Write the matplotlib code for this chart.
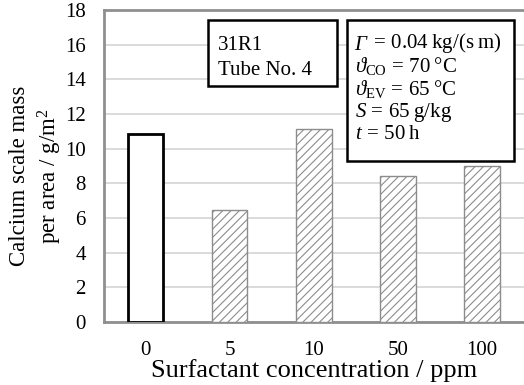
import matplotlib
matplotlib.use("Agg")
import matplotlib.pyplot as plt
from matplotlib.patches import Rectangle

# surfactant concentrations and measured scale mass per area
concentrations = ["0", "5", "10", "50", "100"]
scale_mass = [10.85, 6.45, 11.15, 8.4, 9.0]

plt.rcParams['font.family'] = ['Liberation Serif', 'DejaVu Serif']
plt.rcParams['mathtext.fontset'] = 'custom'
plt.rcParams['mathtext.rm'] = 'Liberation Serif'
plt.rcParams['mathtext.it'] = 'Liberation Serif:italic'
plt.rcParams['mathtext.bf'] = 'Liberation Serif:bold'
plt.rcParams['hatch.linewidth'] = 0.8
plt.rcParams['hatch.color'] = '#8c8c8c'

fig = plt.figure(figsize=(5.24, 3.85), dpi=100)
ax = fig.add_axes([0.198, 0.1636, 0.802, 0.81])

x = list(range(len(concentrations)))
# reference without surfactant: plain white bar with black outline
ax.bar(x[0], scale_mass[0], width=0.42, facecolor='white', edgecolor='black',
       linewidth=2, zorder=3)
# with surfactant: hatched bars
ax.bar(x[1:], scale_mass[1:], width=0.42, facecolor='white',
       edgecolor='#8c8c8c', hatch='////', linewidth=1, zorder=3)

ax.set_xlim(-0.5, 4.5)
ax.set_ylim(0, 18)
ax.set_yticks(range(0, 19, 2))
ax.set_xticks(x)
ax.set_xticklabels(concentrations)
ax.tick_params(axis='both', length=0, labelsize=15)
ax.tick_params(axis='y', pad=13)
ax.tick_params(axis='x', pad=14)

ax.yaxis.grid(True, color='#d4d4d4', linewidth=1.2, zorder=0)
ax.set_axisbelow(True)
for side in ['left', 'bottom', 'top']:
    ax.spines[side].set_color('#8f8f8f')
    ax.spines[side].set_linewidth(2)
ax.spines['right'].set_visible(False)

ax.set_xlabel("Surfactant concentration / ppm", fontsize=19, labelpad=-1)
ax.set_ylabel("Calcium scale mass\nper area / g/m$^2$", fontsize=16.5,
              linespacing=1.3, multialignment='center')
ax.yaxis.set_label_coords(-0.094, 0.468)

# info boxes
ax.add_patch(Rectangle((0.2476, 0.756), 0.307, 0.212, transform=ax.transAxes,
                       facecolor='white', edgecolor='black', linewidth=1.8,
                       zorder=5, clip_on=False))
ax.add_patch(Rectangle((0.5786, 0.516), 0.397, 0.452, transform=ax.transAxes,
                       facecolor='white', edgecolor='black', linewidth=1.8,
                       zorder=5, clip_on=False))

sample_lines = ["31R1", "Tube No. 4"]
for i, line in enumerate(sample_lines):
    ax.text(0.271, 0.872 - i * 0.08, line, transform=ax.transAxes,
            fontsize=15, va='baseline', ha='left', zorder=6)

# first parameter line: italic Gamma followed by the value
gamma = ax.text(0.597, 0.872, "Γ", transform=ax.transAxes, fontsize=15,
                style='italic', va='baseline', ha='left', zorder=6)
ax.annotate("$\\,=\\,0.04\\;\\mathrm{kg/(s\\;m)}$", xy=(1, 0), xycoords=gamma,
            xytext=(1, 0), textcoords='offset points', fontsize=15,
            va='bottom', ha='left', zorder=6)

param_lines = ["$\\vartheta_{\\mathrm{CO}}\\,=\\,70\\;\\mathrm{°C}$",
               "$\\vartheta_{\\mathrm{EV}}\\,=\\,65\\;\\mathrm{°C}$",
               "$\\mathit{S}\\,=\\,65\\;\\mathrm{g/kg}$",
               "$\\mathit{t}\\,=\\,50\\;\\mathrm{h}$"]
for i, line in enumerate(param_lines, start=1):
    ax.text(0.597, 0.872 - i * 0.0715, line, transform=ax.transAxes,
            fontsize=15, va='baseline', ha='left', zorder=6)

plt.savefig('out.png', dpi=100)
